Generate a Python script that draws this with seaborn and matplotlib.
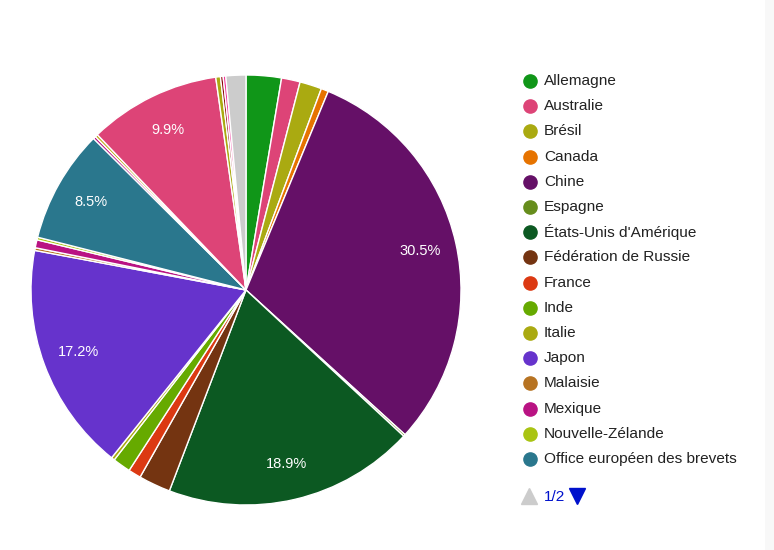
import matplotlib
matplotlib.use("Agg")
import matplotlib.pyplot as plt
import seaborn as sns
from matplotlib.lines import Line2D
from matplotlib.patches import Rectangle

sns.set_theme(style="white")
plt.rcParams['font.family'] = ['Liberation Sans', 'DejaVu Sans']

categories = ["Allemagne", "Australie", "Brésil", "Canada", "Chine", "Espagne",
              "États-Unis d'Amérique", "Fédération de Russie", "France", "Inde",
              "Italie", "Japon", "Malaisie", "Mexique", "Nouvelle-Zélande",
              "Office européen des brevets", "Pays-Bas", "Pologne",
              "République de Corée", "Royaume-Uni", "Singapour", "Suisse", "Autres"]
values = [2.65, 1.4, 1.65, 0.55, 30.5, 0.15, 18.9, 2.4, 0.95, 1.35, 0.25, 17.2,
          0.2, 0.6, 0.2, 8.5, 0.2, 0.2, 9.9, 0.35, 0.2, 0.2, 1.5]
colors = ["#109618", "#dd4477", "#aaaa11", "#e67300", "#651067", "#668d1c",
          "#0c5922", "#743411", "#dc3912", "#66aa00", "#aaaa11", "#6633cc",
          "#b77322", "#b91383", "#a9c413", "#2a778d", "#b91383", "#bea413",
          "#dd4477", "#aaaa11", "#8b0707", "#f4359e", "#cccccc"]
legend_count = 16
page_label = "1/2"

W, H = 774, 550
fig = plt.figure(figsize=(W / 100, H / 100), dpi=100)
fig.patch.set_facecolor("white")
fig.add_artist(Rectangle((765 / W, 0), 9 / W, 1, transform=fig.transFigure,
                         facecolor="#f8f8f8", edgecolor="none", zorder=0))

cx, cy, r = 246, 290, 215
ax = fig.add_axes([(cx - r) / W, (H - cy - r) / H, 2 * r / W, 2 * r / H])


def fmt(p):
    return f"{p:.1f}%" if p > 5 else ""


wedges, texts, autotexts = ax.pie(
    values, colors=colors, startangle=90, counterclock=False, radius=1,
    autopct=fmt, pctdistance=0.83,
    wedgeprops=dict(edgecolor="white", linewidth=1.0),
    textprops=dict(color="white", fontsize=10.5))
ax.set_xlim(-1, 1)
ax.set_ylim(-1, 1)
ax.set_aspect("equal")
ax.axis("off")

# legend
x_dot, x_txt = 530, 544
y0, dy = 81, 25.2
for i in range(legend_count):
    y = y0 + i * dy
    fig.add_artist(Line2D([x_dot / W], [1 - y / H], marker="o", markersize=9.5,
                          color=colors[i], linestyle="none",
                          transform=fig.transFigure))
    fig.text(x_txt / W, 1 - y / H, categories[i], fontsize=11.1, color="#222222",
             va="center", ha="left")

yp = 497
fig.add_artist(Line2D([529 / W], [1 - (yp - 1) / H], marker="^", markersize=11,
                      color="#cccccc", linestyle="none", transform=fig.transFigure))
fig.text(544 / W, 1 - yp / H, page_label, fontsize=11.1, color="#0011cc",
         va="center", ha="left")
fig.add_artist(Line2D([577 / W], [1 - (yp - 1) / H], marker="v", markersize=11,
                      color="#0011cc", linestyle="none", transform=fig.transFigure))

fig.savefig("out.png", dpi=100, facecolor="white")
